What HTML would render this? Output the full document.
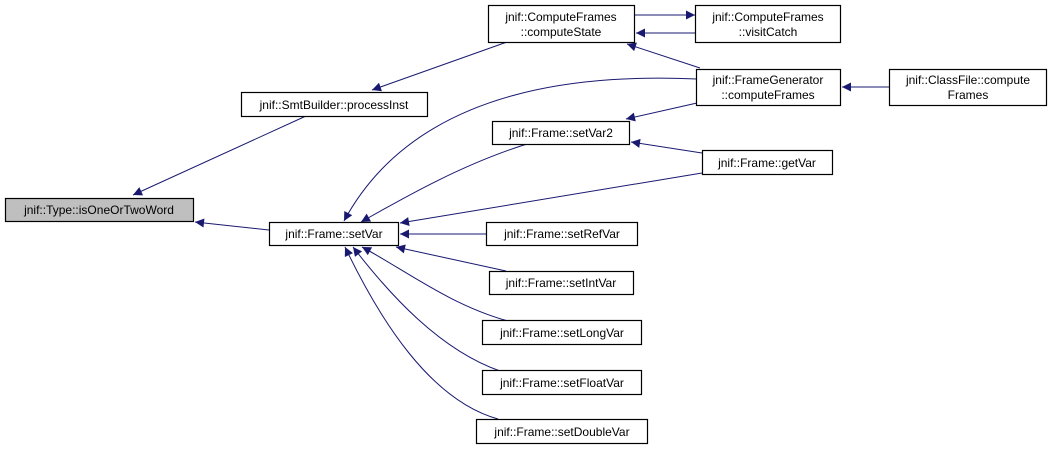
<!DOCTYPE html>
<html><head><meta charset="utf-8"><style>
html,body{margin:0;padding:0;background:#fff;width:1053px;height:449px;overflow:hidden}
svg text{font-family:"Liberation Sans",Helvetica,sans-serif;font-size:12px;fill:#000;text-anchor:middle}
</style></head><body>
<svg width="1053" height="449" viewBox="0 0 1053 449" xmlns="http://www.w3.org/2000/svg">
<defs><marker id="a" viewBox="0 0 10 10" refX="10" refY="5" markerWidth="12" markerHeight="9" markerUnits="userSpaceOnUse" orient="auto"><path d="M0,0L10,5L0,10z" fill="#191970"/></marker></defs>
<g fill="none" stroke="#191970" stroke-width="1" marker-end="url(#a)">
<path d="M306,116L133,195"/>
<path d="M269,230L195,222"/>
<path d="M507,42L372,90"/>
<path d="M695,33L636,33"/>
<path d="M634,15L695,15"/>
<path d="M700,68L627,44"/>
<path d="M889,87L842,87"/>
<path d="M697,79C600,75 420,80 344,221"/>
<path d="M697,103L626,119"/>
<path d="M702,153L631,142"/>
<path d="M527,144C460,165 400,200 361,222"/>
<path d="M702,173L400,223"/>
<path d="M486,234L400,234"/>
<path d="M506,271L396,247"/>
<path d="M508,321C450,305 405,270 362,247"/>
<path d="M500,371C440,350 390,295 353,247"/>
<path d="M498,419C430,400 380,320 345,247"/>
</g>
<g stroke="#000" stroke-width="1.2">
<rect x="5.5" y="198.5" width="188" height="23" fill="#bfbfbf"/>
<rect x="241.5" y="92.5" width="186" height="24" fill="#fff"/>
<rect x="269.5" y="222.5" width="129" height="23" fill="#fff"/>
<rect x="488.5" y="5.5" width="146" height="37" fill="#fff"/>
<rect x="695.5" y="5.5" width="145" height="37" fill="#fff"/>
<rect x="696.5" y="69.5" width="144" height="36" fill="#fff"/>
<rect x="889.5" y="69.5" width="157" height="36" fill="#fff"/>
<rect x="492.5" y="121.5" width="137" height="23" fill="#fff"/>
<rect x="702.5" y="150.5" width="130" height="24" fill="#fff"/>
<rect x="486.5" y="222.5" width="151" height="23" fill="#fff"/>
<rect x="489.5" y="271.5" width="144" height="23" fill="#fff"/>
<rect x="482.5" y="320.5" width="159" height="24" fill="#fff"/>
<rect x="482.5" y="370.5" width="159" height="24" fill="#fff"/>
<rect x="476.5" y="419.5" width="171" height="24" fill="#fff"/>
</g>
<text x="99" y="214">jnif::Type::isOneOrTwoWord</text>
<text x="334" y="109">jnif::SmtBuilder::processInst</text>
<text x="334" y="238">jnif::Frame::setVar</text>
<text x="561" y="21">jnif::ComputeFrames</text>
<text x="561" y="36">::computeState</text>
<text x="768" y="21">jnif::ComputeFrames</text>
<text x="768" y="36">::visitCatch</text>
<text x="768" y="84">jnif::FrameGenerator</text>
<text x="768" y="99">::computeFrames</text>
<text x="968" y="84">jnif::ClassFile::compute</text>
<text x="968" y="99">Frames</text>
<text x="561" y="137">jnif::Frame::setVar2</text>
<text x="767" y="167">jnif::Frame::getVar</text>
<text x="562" y="238">jnif::Frame::setRefVar</text>
<text x="561" y="287">jnif::Frame::setIntVar</text>
<text x="562" y="337">jnif::Frame::setLongVar</text>
<text x="562" y="387">jnif::Frame::setFloatVar</text>
<text x="562" y="436">jnif::Frame::setDoubleVar</text>
</svg>
</body></html>
